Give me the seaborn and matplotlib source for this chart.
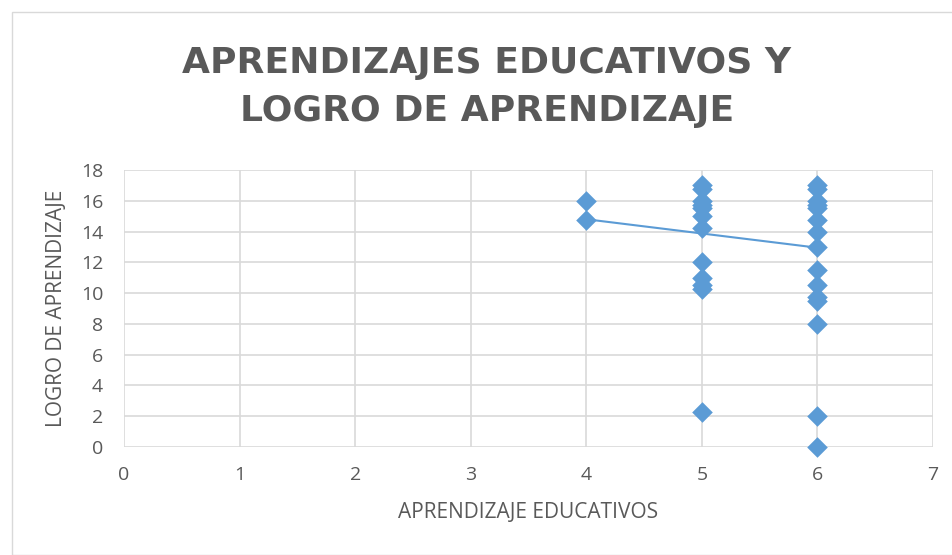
import numpy as np
import pandas as pd
import seaborn as sns
import matplotlib.pyplot as plt
from matplotlib.patches import Rectangle

# data
aprendizaje = [4, 4,
               5, 5, 5, 5, 5, 5, 5, 5, 5, 5, 5, 5,
               6, 6, 6, 6, 6, 6, 6, 6, 6, 6, 6, 6, 6, 6, 6]
logro = [16, 14.75,
         17, 16.75, 16, 15.75, 15.5, 15, 14.25, 12, 11, 10.5, 10.25, 2.25,
         17, 16.75, 16, 15.75, 15.5, 14.75, 14, 13, 11.5, 10.5, 9.75, 9.5, 8, 2, 0]
trend_x = [4, 6]
trend_y = [14.8, 12.95]

df = pd.DataFrame({'x': aprendizaje, 'y': logro})
trend = pd.DataFrame({'x': trend_x, 'y': trend_y})

sns.set_style('white')
plt.rcParams['font.family'] = ['Open Sans', 'DejaVu Sans']

gray = '#595959'
blue = '#5B9BD5'
W, H = 953, 555
fig = plt.figure(figsize=(W / 100, H / 100), dpi=100)
fig.patches.append(Rectangle((12 / W, 0), 1, 1 - 12 / H, transform=fig.transFigure,
                             fill=False, ec='#D9D9D9', lw=1))

ax = fig.add_axes([124 / W, 1 - 447 / H, (933 - 124) / W, (447 - 170) / H])
sns.lineplot(data=trend, x='x', y='y', ax=ax, color=blue, lw=1.5, zorder=3)
sns.scatterplot(data=df, x='x', y='y', ax=ax, marker='D', s=110, color=blue,
                edgecolor=blue, linewidth=0, zorder=4, clip_on=False)

ax.set_xlim(0, 7)
ax.set_ylim(0, 18)
ax.set_xticks(range(0, 8))
ax.set_yticks(range(0, 19, 2))
ax.grid(True, color='#D9D9D9', lw=1.2)
ax.set_axisbelow(True)
for s in ax.spines.values():
    s.set_visible(False)
ax.tick_params(length=0, labelsize=14, colors=gray)
ax.tick_params(axis='x', pad=14)
ax.tick_params(axis='y', pad=15)
ax.set_xlabel('APRENDIZAJE EDUCATIVOS', fontsize=15, color=gray, labelpad=13)
ax.set_ylabel('LOGRO DE APRENDIZAJE', fontsize=15, color=gray, labelpad=10)

title_font = dict(ha='center', va='center', fontsize=26, fontweight='bold',
                  color=gray, family='DejaVu Sans')
fig.text(487 / W, 1 - 63 / H, 'APRENDIZAJES EDUCATIVOS Y', **title_font)
fig.text(487 / W, 1 - 111 / H, 'LOGRO DE APRENDIZAJE', **title_font)

fig.savefig('out.png', dpi=100)
